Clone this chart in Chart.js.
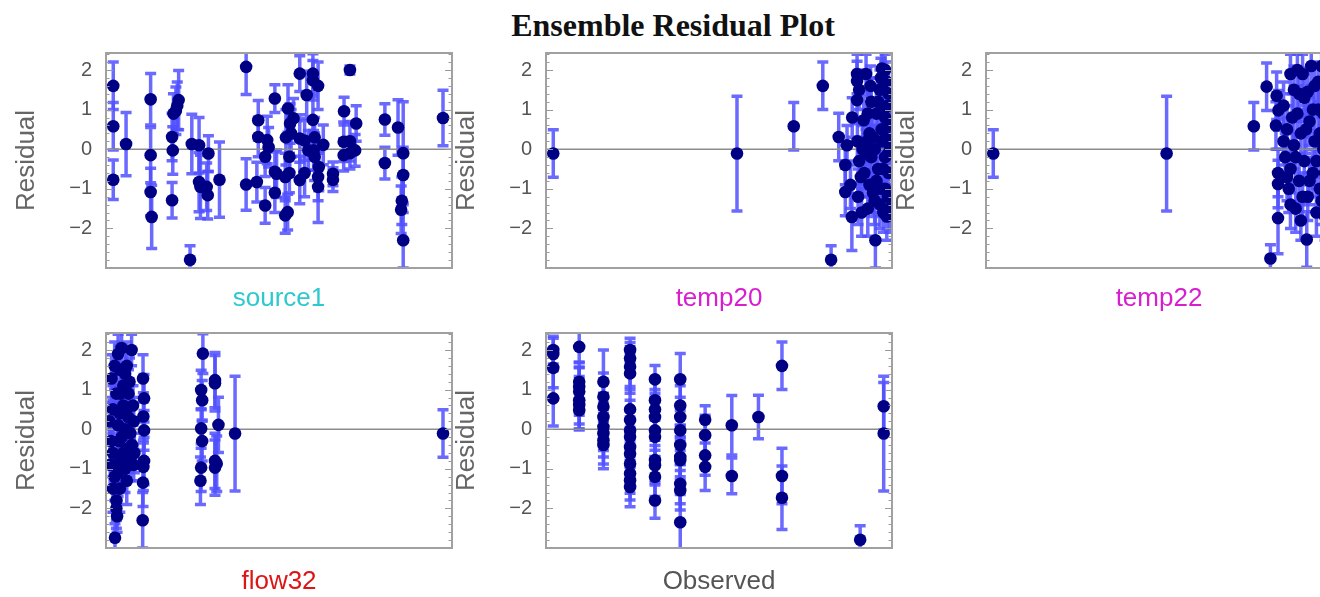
<!DOCTYPE html>
<html lang="en">
<head>
<meta charset="UTF-8">
<title>Ensemble Residual Plot</title>
<script src="https://cdn.jsdelivr.net/npm/chart.js"></script>
<style>
  html, body { margin: 0; padding: 0; background: #fff; overflow: hidden; }
  body { width: 1320px; height: 597px; position: relative; }
  h1 {
    position: absolute; left: 0; top: 7px; width: 1346px; margin: 0;
    text-align: center; line-height: 36px;
    font: bold 32px "Liberation Serif", "DejaVu Serif", serif; color: #111;
  }
  canvas { position: absolute; }
</style>
</head>
<body>

<h1>Ensemble Residual Plot</h1>

<canvas id="pSource1" width="460" height="280" style="left:0px; top:40px;"></canvas>
<canvas id="pTemp20" width="460" height="280" style="left:440px; top:40px;"></canvas>
<canvas id="pTemp22" width="460" height="280" style="left:880px; top:40px;"></canvas>
<canvas id="pFlow32" width="460" height="277" style="left:0px; top:320px;"></canvas>
<canvas id="pObserved" width="460" height="277" style="left:440px; top:320px;"></canvas>

<script>
// each point: [x position (0-100 along the panel), residual, error half-width]
const source1 = [
  [2.1,1.6,0.6],[2.1,0.58,0.6],[2.1,-0.77,0.5],[5.8,0.13,0.8],
  [12.9,1.26,0.65],[12.9,-0.15,0.7],[12.9,-1.08,0.6],[13.2,-1.71,0.8],
  [19.1,0.31,0.6],[19.3,-0.03,0.6],[19.1,-1.29,0.45],[19.5,0.9,0.5],
  [21.0,1.24,0.75],[20.6,1.1,0.6],[20.2,0.97,0.6],
  [24.3,-2.79,0.35],[24.8,0.13,0.75],
  [26.9,0.1,0.7],[26.9,-0.83,0.75],[27.3,-0.95,0.8],
  [29.1,-0.95,0.6],[29.4,-1.16,0.6],[29.6,-0.11,0.45],[32.8,-0.77,0.95],
  [40.5,2.08,0.7],[40.5,-0.89,0.65],
  [43.6,-0.83,0.5],[44.0,0.73,0.5],[44.0,0.31,0.5],
  [46.0,-0.19,0.5],[46.0,-1.42,0.45],[46.6,0.23,0.6],[47.0,0.05,0.5],
  [48.8,1.28,0.35],[48.8,-0.57,0.5],[48.8,-1.1,0.5],[49.3,-0.62,0.6],
  [51.8,-1.67,0.45],[52.5,-1.59,0.45],[51.8,-0.7,0.6],[52.0,0.3,0.7],[52.6,1.03,0.6],
  [53.2,0.65,0.5],[53.5,0.4,0.6],[53.0,-0.19,0.5],[53.0,-0.6,0.5],[54.2,0.78,0.5],
  [56.0,1.91,0.45],[56.0,0.27,0.6],[56.0,-0.78,0.6],
  [57.4,0.22,0.5],[57.4,-0.6,0.6],[58.0,1.37,0.6],[58.5,-0.03,0.5],
  [59.8,1.91,0.5],[59.8,1.74,0.5],[59.8,0.74,0.6],[60.3,0.3,0.5],[60.0,-0.03,0.5],[60.3,-0.19,0.6],
  [61.3,1.6,0.6],[61.5,-0.45,0.6],[61.3,-0.7,0.6],[61.3,-0.95,0.9],
  [62.8,0.11,0.5],
  [65.6,-0.62,0.3],[65.6,-0.77,0.3],
  [68.8,0.96,0.35],[68.7,0.19,0.5],[68.7,-0.15,0.4],
  [70.5,2.0,0.1],[70.5,0.2,0.5],[70.5,-0.1,0.4],[72.3,0.65,0.45],[72.0,-0.03,0.4],
  [80.6,0.75,0.4],[80.6,-0.35,0.4],
  [84.4,0.55,0.7],
  [85.9,-0.1,1.3],[85.9,-0.65,0.7],[85.5,-1.3,0.6],[85.3,-1.53,0.6],[85.9,-2.3,0.7],
  [97.4,0.79,0.7]
];

const temp20 = [
  [2.1,-0.11,0.6],[55.2,-0.11,1.45],[71.6,0.58,0.6],[80.0,1.6,0.6],[82.4,-2.79,0.35],
  [84.6,0.31,0.6],[86.5,-1.08,0.6],[88.4,-1.71,0.85],[86.5,-0.4,0.5],[87.0,0.1,0.5],[88.0,-0.9,0.6],[88.5,0.8,0.5],
  [89.9,1.9,0.5],[89.9,1.72,0.5],[89.9,1.24,0.6],[90.5,1.5,0.5],[90.0,0.2,0.6],[90.5,-0.3,0.6],[90.2,-1.2,0.7],[91.0,-0.7,0.5],
  [91.8,0.73,0.6],[92.5,1.9,0.5],[92.5,-0.1,0.6],[93.0,-1.5,0.7],[93.5,0.4,0.5],[93.5,-0.9,0.6],[94.0,1.2,0.6],
  [95.2,-2.3,0.7],[95.0,-1.3,0.6],[95.0,0.0,0.6],[95.5,0.9,0.6],[96.0,-0.5,0.6],[97.1,2.04,0.5],[96.5,1.5,0.5],
  [97.0,-1.0,0.6],[97.0,0.5,0.6],[97.5,-1.6,0.5],[97.5,1.0,0.6],[98.0,-0.2,0.6],[98.0,2.0,0.4],[98.5,-1.7,0.6],
  [98.5,0.3,0.6],[98.8,-1.2,0.6],[99.0,1.4,0.6],[99.0,-0.6,0.6],[99.3,0.1,0.6],
  [91.5,0.0,0.6],[92.0,-0.6,0.6],[93.0,0.9,0.6],[94.0,-0.2,0.6],[94.5,0.3,0.6],[95.5,-0.8,0.6],[96.0,1.2,0.6],
  [96.5,-1.4,0.6],[97.0,0.2,0.6],[97.5,-0.5,0.6],[98.0,0.8,0.6],[98.0,-1.0,0.6],[98.5,1.7,0.5],[99.0,-0.1,0.6],
  [99.2,0.6,0.6],[99.3,-1.5,0.6],[98.8,1.1,0.6],[96.8,1.8,0.5],[94.5,-1.1,0.6],[93.8,1.6,0.5],[92.8,0.2,0.6],[91.2,-1.6,0.6]
];

const temp22 = [
  [2.1,-0.11,0.6],[52.2,-0.11,1.45],[77.4,0.58,0.6],[81.1,1.58,0.6],[82.2,-2.76,0.35],
  [84.4,-0.6,0.6],[84.4,-0.88,0.6],[84.4,-1.74,0.9],[83.8,0.6,0.6],[84.0,1.35,0.6],[84.5,0.98,0.5],[86.0,1.1,0.6],
  [86.5,-0.2,0.6],[87.0,0.5,0.6],[87.5,-1.0,0.6],[88.0,1.9,0.5],[88.0,-0.5,0.6],[89.0,1.5,0.6],[89.0,0.1,0.6],
  [89.5,-1.5,0.6],[90.0,2.0,0.4],[90.0,0.9,0.6],[90.5,-0.8,0.6],[91.0,-1.8,0.5],[91.0,0.4,0.6],[92.0,1.3,0.6],
  [92.0,-0.3,0.6],[92.7,-2.28,0.7],[93.0,-1.2,0.6],[93.0,1.45,0.6],[93.5,0.7,0.6],[94.0,2.1,0.5],[94.5,-0.6,0.6],
  [95.0,0.2,0.6],[95.5,-1.6,0.6],[96.0,1.0,0.6],[96.5,-1.0,0.6],[97.0,2.1,0.5],[97.5,0.0,0.6],[98.0,-1.7,0.6],
  [98.5,0.6,0.6],[99.0,-0.4,0.6],[99.5,1.5,0.6],
  [86.0,0.2,0.6],[87.0,-0.7,0.6],[88.5,0.8,0.6],[89.5,-0.2,0.6],[90.5,1.4,0.6],[91.5,-1.2,0.6],[92.5,0.5,0.6],
  [93.5,-0.8,0.6],[94.5,1.0,0.6],[95.5,-0.3,0.6],[96.0,1.7,0.5],[96.5,0.4,0.6],[97.0,-1.3,0.6],[97.5,0.9,0.6],
  [98.0,-0.6,0.6],[98.5,1.9,0.5],[99.0,0.2,0.6],[99.5,-1.0,0.6],[95.0,1.6,0.5],[91.5,1.9,0.5],[88.0,-1.4,0.6]
];

const flow32 = [
  [1.6,1.28,0.6],[2.6,-2.74,0.35],[2.0,0.5,0.6],[2.0,-0.6,0.6],[2.5,-1.2,0.6],[3.0,0.9,0.5],[3.0,-1.8,0.5],
  [3.5,1.9,0.5],[3.5,0.1,0.6],[3.8,-0.3,0.5],[4.0,1.5,0.6],[4.0,-1.5,0.6],[4.5,2.05,0.5],[4.5,-0.8,0.6],
  [5.0,0.6,0.6],[5.0,1.1,0.5],[5.5,-1.0,0.6],[5.5,0.0,0.6],[6.0,1.6,0.6],[6.0,-0.5,0.5],[6.5,0.3,0.6],
  [3.0,-2.0,0.5],[7.0,-0.8,0.5],[7.4,2.0,0.4],[7.5,-0.4,0.6],[8.0,0.2,0.6],[8.0,-0.9,0.4],
  [1.0,0.2,0.6],[1.5,-0.3,0.6],[2.5,1.6,0.6],[3.0,-0.9,0.6],[4.0,0.4,0.6],[4.5,-0.2,0.6],[5.5,1.4,0.6],
  [6.0,-1.3,0.6],[6.5,0.9,0.6],[7.0,-0.1,0.6],[3.5,-1.1,0.6],[2.0,-1.5,0.6],[5.0,-0.6,0.6],[6.8,1.2,0.6],
  [1.2,-0.9,0.6],[4.2,0.9,0.6],[5.8,0.5,0.6],[3.2,-2.2,0.4],[8.2,-0.6,0.5],[7.8,0.6,0.5],
  [10.7,1.28,0.6],[11.0,0.78,0.6],[10.8,0.32,0.6],[11.0,-0.03,0.5],[11.0,-0.8,0.6],[10.8,-0.95,0.6],
  [10.7,-1.35,0.6],[10.6,-2.3,0.7],
  [28.0,1.91,0.5],[27.5,0.99,0.5],[27.8,0.73,0.5],[27.5,0.02,0.5],[27.8,-0.3,0.5],[27.5,-0.97,0.6],[27.3,-1.3,0.6],
  [31.5,1.24,0.7],[31.5,1.16,0.7],[31.5,-0.8,0.7],[32.0,-0.87,0.7],[31.5,-0.97,0.7],[32.5,0.11,0.7],
  [37.3,-0.11,1.45],[97.4,-0.11,0.6]
];

const observed = [
  [2.1,2.0,0.35],[2.1,1.9,0.4],[2.1,1.55,0.5],[2.1,0.78,0.7],
  [9.6,2.08,0.4],[9.6,1.2,0.5],[9.6,1.07,0.5],[9.6,0.95,0.6],[9.6,0.73,0.6],[9.6,0.61,0.6],[9.6,0.48,0.5],
  [16.6,1.2,0.8],[16.6,0.82,0.6],[16.6,0.57,0.6],[16.6,0.31,0.6],[16.6,0.06,0.6],[16.6,-0.1,0.6],[16.6,-0.28,0.6],[16.6,-0.4,0.6],
  [24.3,2.0,0.3],[24.3,1.79,0.4],[24.3,1.58,0.5],[24.3,1.41,0.5],[24.3,0.5,0.5],[24.3,0.23,0.5],[24.3,-0.03,0.5],
  [24.3,-0.19,0.5],[24.3,-0.45,0.5],[24.3,-0.62,0.5],[24.3,-0.87,0.5],[24.3,-1.12,0.5],[24.3,-1.29,0.5],[24.3,-1.46,0.5],
  [31.5,1.26,0.35],[31.5,0.73,0.5],[31.5,0.5,0.5],[31.5,0.31,0.5],[31.5,-0.03,0.5],[31.5,-0.19,0.5],
  [31.5,-0.78,0.5],[31.5,-0.91,0.5],[31.5,-1.2,0.5],[31.5,-1.8,0.45],
  [38.8,1.26,0.65],[38.8,0.6,0.5],[38.8,0.31,0.5],[38.8,-0.03,0.5],[38.8,-0.4,0.5],[38.8,-0.7,0.5],
  [38.8,-0.78,0.5],[38.8,-1.38,0.5],[38.8,-1.54,0.5],[38.8,-2.35,0.7],
  [46.0,0.24,0.35],[46.0,-0.15,0.5],[46.0,-0.66,0.5],[46.0,-0.95,0.6],
  [53.7,0.1,0.75],[53.7,-1.18,0.45],
  [61.4,0.31,0.55],
  [68.2,1.6,0.6],[68.2,-1.18,0.7],[68.2,-1.73,0.8],
  [90.8,-2.79,0.35],
  [97.6,0.58,0.6],[97.6,-0.11,1.45]
];

const yMin = -3.0;
const yMax = 2.43;
const yLabels = [-2, -1, 0, 1, 2];

const fontSans = '"Liberation Sans", Arial, sans-serif';

// error bars, zero line, frame and inward ticks
const residualDecor = {
    id: 'residualDecor',
    beforeDatasetsDraw(chart) {
        const { ctx, chartArea: a, scales: { x, y } } = chart;
        const pts = chart.data.datasets[0].data;
        ctx.save();
        ctx.beginPath();
        ctx.rect(a.left, a.top, a.right - a.left, a.bottom - a.top);
        ctx.clip();
        ctx.strokeStyle = 'rgba(80,80,255,0.85)';
        ctx.lineWidth = 3.5;
        pts.forEach(p => {
            const px = x.getPixelForValue(p.x);
            const top = y.getPixelForValue(p.y + p.err);
            const bot = y.getPixelForValue(p.y - p.err);
            ctx.beginPath();
            ctx.moveTo(px, top); ctx.lineTo(px, bot);
            ctx.moveTo(px - 5.5, top); ctx.lineTo(px + 5.5, top);
            ctx.moveTo(px - 5.5, bot); ctx.lineTo(px + 5.5, bot);
            ctx.stroke();
        });
        const y0 = y.getPixelForValue(0);
        ctx.strokeStyle = '#8c8c8c';
        ctx.lineWidth = 1.5;
        ctx.beginPath();
        ctx.moveTo(a.left, y0); ctx.lineTo(a.right, y0);
        ctx.stroke();
        ctx.restore();
    },
    afterDraw(chart) {
        const { ctx, chartArea: a, scales: { y } } = chart;
        ctx.save();
        ctx.strokeStyle = '#9a9a9a';
        ctx.lineWidth = 1;
        for (let k = Math.ceil(yMin * 5); k <= Math.floor(yMax * 5); k++) {
            const py = Math.round(y.getPixelForValue(k / 5)) + 0.5;
            const len = k % 5 === 0 ? 7 : 3.5;
            ctx.beginPath();
            ctx.moveTo(a.left, py); ctx.lineTo(a.left + len, py);
            ctx.moveTo(a.right, py); ctx.lineTo(a.right - len, py);
            ctx.stroke();
        }
        ctx.strokeStyle = '#a0a0a0';
        ctx.lineWidth = 2;
        ctx.strokeRect(a.left, a.top, a.right - a.left, a.bottom - a.top);
        ctx.restore();
    }
};

function noPadding(s) {
    s.paddingTop = 0;
    s.paddingBottom = 0;
    s.paddingLeft = 0;
    s.paddingRight = 0;
}

function makePanel(id, list, label, labelColor, xAxisHeight, titlePad) {
    const pts = list.map(([x, y, err]) => ({ x, y, err }));
    new Chart(document.getElementById(id), {
        type: 'scatter',
        data: {
            datasets: [{
                data: pts,
                backgroundColor: '#000085',
                borderWidth: 0,
                pointRadius: 6.3,
                clip: 0
            }]
        },
        options: {
            responsive: false,
            animation: false,
            devicePixelRatio: 1,
            layout: { padding: { top: 13, right: 8, left: 0, bottom: 0 } },
            plugins: { legend: { display: false }, tooltip: { enabled: false } },
            scales: {
                x: {
                    type: 'linear', min: 0, max: 100,
                    afterFit: s => { s.height = xAxisHeight; noPadding(s); },
                    grid: { display: false, drawTicks: false },
                    border: { display: false },
                    ticks: { display: false },
                    title: {
                        display: true, text: label, color: labelColor,
                        font: { family: fontSans, size: 26 },
                        padding: { top: 0, bottom: titlePad }
                    }
                },
                y: {
                    min: yMin, max: yMax,
                    afterBuildTicks: s => { s.ticks = yLabels.map(v => ({ value: v })); },
                    afterFit: s => { s.width = 106; noPadding(s); },
                    grid: { display: false, drawTicks: false },
                    border: { display: false },
                    ticks: {
                        padding: 14, color: '#555',
                        font: { family: fontSans, size: 20 },
                        callback: v => String(v).replace('-', '\u2212')
                    },
                    title: {
                        display: true, text: 'Residual', color: '#666',
                        font: { family: fontSans, size: 26 },
                        padding: { top: 11, bottom: 0 }
                    }
                }
            }
        },
        plugins: [residualDecor]
    });
}

makePanel('pSource1', source1, 'source1', '#2ec9cf', 52, 6);
makePanel('pTemp20', temp20, 'temp20', '#d81fcf', 52, 6);
makePanel('pTemp22', temp22, 'temp22', '#d81fcf', 52, 6);
makePanel('pFlow32', flow32, 'flow32', '#dd1515', 49, 0);
makePanel('pObserved', observed, 'Observed', '#555555', 49, 0);
</script>
</body>
</html>
